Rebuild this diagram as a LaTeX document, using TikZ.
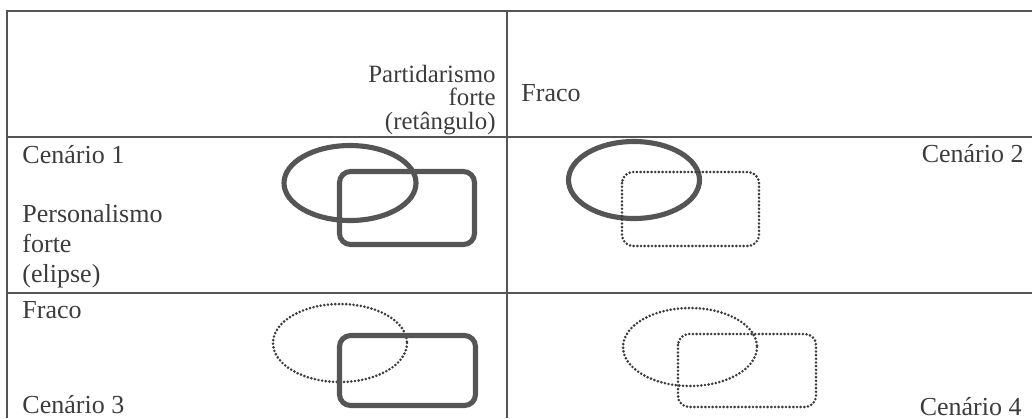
\documentclass[tikz,border=0pt]{standalone}
\usepackage{fontspec}
\setmainfont{Liberation Serif}
\definecolor{ink}{HTML}{3C3C3C}
\definecolor{rule}{HTML}{555555}
\newcommand\apertado{\fontsize{11.2}{10.5}\selectfont\lineskiplimit=-20pt\relax}
\tikzset{
  forte/.style={line width=2.3pt, draw=rule, rounded corners=5pt},
  fraco/.style={line width=1.3pt, draw=ink, dash pattern=on 0pt off 1.65pt, line cap=round, rounded corners=5pt},
  grelha/.style={line width=0.9pt, draw=rule},
  rotulo/.style={inner sep=0pt, text=ink, font=\fontsize{11.7}{14}\selectfont},
}
\begin{document}
\begin{tikzpicture}[x=0.45pt,y=-0.45pt]
            \useasboundingbox (0,0) rectangle (1032,418);
            % grelha da tabela
            \draw[grelha] (1032,11) -- (7,11) -- (7,418);
            \draw[grelha] (507,11) -- (507,418);
            \draw[grelha] (7,137) -- (1032,137);
            \draw[grelha] (7,293) -- (1032,293);
            % cabecalhos
            \node[rotulo, anchor=base east, align=right, font=\apertado] (partido) at (496,129) {Partidarismo\\forte\\(retângulo)};
            \node[rotulo, anchor=base west] (partfraco) at (521,101) {Fraco};
            \node[rotulo, anchor=base west, align=left, font=\fontsize{11.7}{13.3}\selectfont] (pessoal) at (22,282) {Personalismo\\forte\\(elipse)};
            \node[rotulo, anchor=base west] (pessfraco) at (22,318) {Fraco};
            \node[rotulo, anchor=base west] (cen1) at (22,163) {Cenário 1};
            \node[rotulo, anchor=base east] (cen2) at (1024,162) {Cenário 2};
            \node[rotulo, anchor=base west] (cen3) at (22,413) {Cenário 3};
            \node[rotulo, anchor=base east] (cen4) at (1022,415) {Cenário 4};
            % cenario 1
            \draw[forte] (350,183) ellipse [x radius=66, y radius=37.5];
            \draw[forte] (339.5,171.5) rectangle (474.5,244.5);
            % cenario 2
            \draw[forte] (634,180) ellipse [x radius=65.5, y radius=38.5];
            \draw[fraco] (622,172) rectangle (759,246);
            % cenario 3
            \draw[fraco] (340,343) ellipse [x radius=67, y radius=39];
            \draw[forte] (339.5,335.5) rectangle (475.5,405.5);
            % cenario 4
            \draw[fraco] (690,347) ellipse [x radius=67, y radius=39];
            \draw[fraco] (678,334) rectangle (816,407);
        \end{tikzpicture}
\end{document}
